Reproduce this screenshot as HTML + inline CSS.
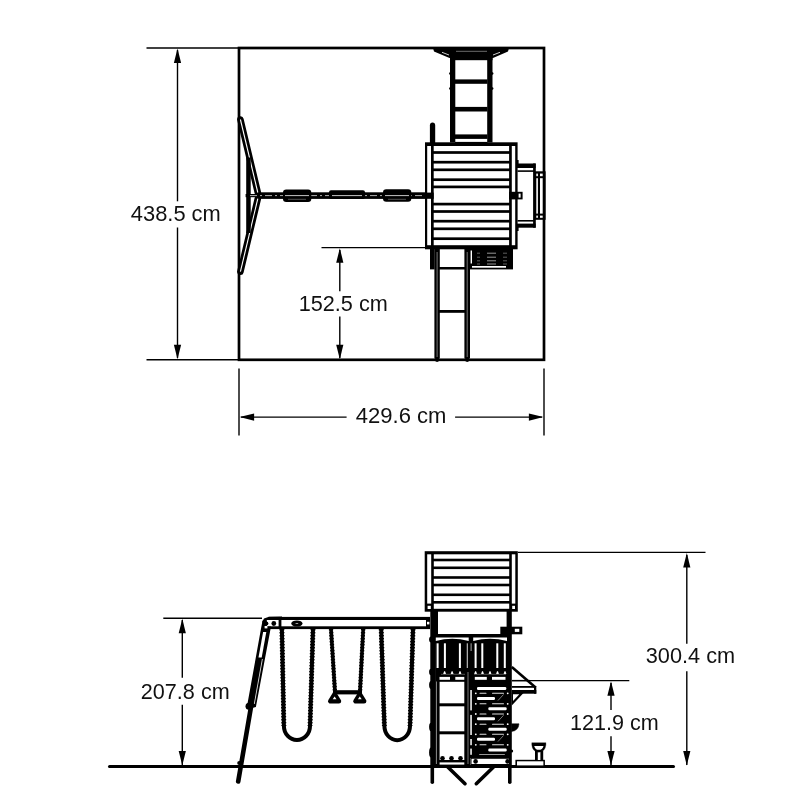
<!DOCTYPE html>
<html><head><meta charset="utf-8"><title>Playset dimensions</title>
<style>
html,body{margin:0;padding:0;background:#fff;}
body{width:800px;height:800px;overflow:hidden;}
svg{display:block;}
text{font-family:"Liberation Sans",sans-serif;font-size:22.4px;fill:#111;}
svg{will-change:transform;}
#txt{filter:grayscale(1);}
</style></head><body>
<svg width="800" height="800" viewBox="0 0 800 800">
<rect x="0" y="0" width="800" height="800" fill="#fff"/>
<rect x="239" y="48" width="305" height="311.8" fill="none" stroke="#000" stroke-width="2.7"/>
<line x1="146.5" y1="48" x2="239" y2="48" stroke="#000" stroke-width="1.4" stroke-linecap="butt"/>
<line x1="146.5" y1="359.8" x2="239" y2="359.8" stroke="#000" stroke-width="1.4" stroke-linecap="butt"/>
<line x1="177.5" y1="50" x2="177.5" y2="201.3" stroke="#000" stroke-width="1.4" stroke-linecap="butt"/>
<line x1="177.5" y1="227.5" x2="177.5" y2="358" stroke="#000" stroke-width="1.4" stroke-linecap="butt"/>
<polygon points="177.5,48.5 173.9,63.0 181.1,63.0" fill="#000"/>
<polygon points="177.5,359.3 173.9,344.8 181.1,344.8" fill="#000"/>
<line x1="321.5" y1="247.6" x2="426" y2="247.6" stroke="#000" stroke-width="1.4" stroke-linecap="butt"/>
<line x1="339.8" y1="250" x2="339.8" y2="291.2" stroke="#000" stroke-width="1.4" stroke-linecap="butt"/>
<line x1="339.8" y1="316.4" x2="339.8" y2="358" stroke="#000" stroke-width="1.4" stroke-linecap="butt"/>
<polygon points="339.8,248.2 336.2,262.7 343.40000000000003,262.7" fill="#000"/>
<polygon points="339.8,359.2 336.2,344.7 343.40000000000003,344.7" fill="#000"/>
<line x1="239" y1="368.5" x2="239" y2="435.5" stroke="#000" stroke-width="1.4" stroke-linecap="butt"/>
<line x1="544" y1="368.5" x2="544" y2="435.5" stroke="#000" stroke-width="1.4" stroke-linecap="butt"/>
<line x1="241" y1="417.1" x2="346.6" y2="417.1" stroke="#000" stroke-width="1.4" stroke-linecap="butt"/>
<line x1="455.1" y1="417.1" x2="542" y2="417.1" stroke="#000" stroke-width="1.4" stroke-linecap="butt"/>
<polygon points="239.6,417.1 254.1,413.5 254.1,420.70000000000005" fill="#000"/>
<polygon points="543.4,417.1 528.9,413.5 528.9,420.70000000000005" fill="#000"/>
<polygon points="433,48 509,48 508,51.5 493,58 449.5,58 434,51.5" fill="#000"/>
<rect x="450" y="48" width="42.5" height="12.2" fill="#000"/>
<line x1="442" y1="52.3" x2="449" y2="55" stroke="#fff" stroke-width="0.8" stroke-linecap="butt"/>
<line x1="500" y1="52.3" x2="493" y2="55" stroke="#fff" stroke-width="0.8" stroke-linecap="butt"/>
<line x1="456" y1="51.3" x2="487" y2="51.3" stroke="#999" stroke-width="0.7" stroke-linecap="butt"/>
<rect x="450" y="58" width="5.3" height="84.5" fill="#000"/>
<rect x="487.2" y="58" width="5.3" height="84.5" fill="#000"/>
<rect x="455" y="79.4" width="32.5" height="4.4" fill="#000"/>
<rect x="455" y="106.9" width="32.5" height="4.6" fill="#000"/>
<rect x="455" y="134.4" width="32.5" height="4.5" fill="#000"/>
<rect x="455" y="141.9" width="32.5" height="1.1" fill="#000"/>
<circle cx="450.3" cy="73.5" r="1.2" fill="#000"/>
<circle cx="492.2" cy="73.5" r="1.2" fill="#000"/>
<circle cx="450.3" cy="88.5" r="1.2" fill="#000"/>
<circle cx="492.2" cy="88.5" r="1.2" fill="#000"/>
<path d="M429.9,143 L429.9,125.5 Q429.9,122.6 432.55,122.6 Q435.2,122.6 435.2,125.5 L435.2,143 Z" fill="#000" stroke="none" stroke-width="0" stroke-linecap="butt" stroke-linejoin="miter" />
<rect x="425" y="142.3" width="92.6" height="107.0" fill="#000"/>
<rect x="427.2" y="146" width="3.8" height="99.2" fill="#fff"/>
<rect x="511.8" y="146" width="3.4" height="99.2" fill="#fff"/>
<rect x="433.7" y="146" width="75.4" height="99.2" fill="#fff"/>
<rect x="433" y="151.15" width="77" height="2.7" fill="#000"/>
<rect x="433" y="160.85" width="77" height="2.7" fill="#000"/>
<rect x="433" y="168.45000000000002" width="77" height="2.7" fill="#000"/>
<rect x="433" y="178.35" width="77" height="2.7" fill="#000"/>
<rect x="433" y="185.55" width="77" height="2.7" fill="#000"/>
<rect x="433" y="202.75" width="77" height="2.7" fill="#000"/>
<rect x="433" y="210.15" width="77" height="2.7" fill="#000"/>
<rect x="433" y="219.85" width="77" height="2.7" fill="#000"/>
<rect x="433" y="227.45000000000002" width="77" height="2.7" fill="#000"/>
<rect x="433" y="237.35" width="77" height="2.7" fill="#000"/>
<rect x="425" y="192.6" width="8.7" height="6.2" fill="#000"/>
<rect x="509.1" y="191.8" width="7.4" height="7.6" fill="#000"/>
<rect x="517" y="163.5" width="18.6" height="4.5" fill="#000"/>
<line x1="517.5" y1="171.1" x2="534" y2="171.1" stroke="#000" stroke-width="1.6" stroke-linecap="butt"/>
<rect x="517" y="223.6" width="18.6" height="4.1" fill="#000"/>
<line x1="517.5" y1="220.8" x2="534" y2="220.8" stroke="#000" stroke-width="1.6" stroke-linecap="butt"/>
<rect x="533.1" y="163.5" width="2.7" height="64.2" fill="#000"/>
<rect x="516" y="160" width="2.6" height="4" fill="#000"/>
<rect x="516" y="227" width="2.6" height="4" fill="#000"/>
<rect x="534.2" y="171.3" width="11.4" height="48.5" fill="#000"/>
<rect x="536.3" y="173.6" width="1.6" height="2.6" fill="#fff"/>
<rect x="540" y="173.6" width="2.7" height="2.6" fill="#fff"/>
<rect x="536.3" y="178.2" width="1.6" height="35.4" fill="#fff"/>
<rect x="540" y="178.2" width="2.7" height="35.4" fill="#fff"/>
<rect x="536.3" y="215.6" width="1.6" height="2.2" fill="#fff"/>
<rect x="540" y="215.6" width="2.7" height="2.2" fill="#fff"/>
<rect x="516" y="191.8" width="6.6" height="7.6" fill="#000"/>
<rect x="518.6" y="193.6" width="2.0" height="4.0" fill="#fff"/>
<rect x="430" y="249" width="4.6" height="20.4" fill="#000"/>
<rect x="434.4" y="249" width="5.4" height="109.5" fill="#000"/>
<rect x="464.4" y="249" width="5.6" height="109.5" fill="#000"/>
<line x1="437.1" y1="252" x2="437.1" y2="357" stroke="#aaa" stroke-width="0.7" stroke-linecap="butt"/>
<line x1="467.2" y1="252" x2="467.2" y2="357" stroke="#aaa" stroke-width="0.7" stroke-linecap="butt"/>
<rect x="439" y="267" width="26" height="2.5" fill="#000"/>
<rect x="439" y="310" width="26" height="2.8" fill="#000"/>
<circle cx="437.1" cy="359.6" r="2.3" fill="#000"/>
<circle cx="467.2" cy="359.6" r="2.3" fill="#000"/>
<rect x="470" y="249" width="43" height="20.4" fill="#000"/>
<rect x="470.6" y="250.5" width="1.4" height="13.0" fill="#fff"/>
<rect x="472" y="266" width="34" height="1.7" fill="#fff"/>
<line x1="487" y1="253.2" x2="496" y2="253.2" stroke="#bbb" stroke-width="0.8" stroke-linecap="butt"/>
<line x1="477" y1="253.2" x2="480" y2="253.2" stroke="#888" stroke-width="0.7" stroke-linecap="butt"/>
<line x1="503" y1="253.2" x2="507" y2="253.2" stroke="#888" stroke-width="0.7" stroke-linecap="butt"/>
<line x1="487" y1="257.2" x2="496" y2="257.2" stroke="#bbb" stroke-width="0.8" stroke-linecap="butt"/>
<line x1="477" y1="257.2" x2="480" y2="257.2" stroke="#888" stroke-width="0.7" stroke-linecap="butt"/>
<line x1="503" y1="257.2" x2="507" y2="257.2" stroke="#888" stroke-width="0.7" stroke-linecap="butt"/>
<line x1="487" y1="260.8" x2="496" y2="260.8" stroke="#bbb" stroke-width="0.8" stroke-linecap="butt"/>
<line x1="477" y1="260.8" x2="480" y2="260.8" stroke="#888" stroke-width="0.7" stroke-linecap="butt"/>
<line x1="503" y1="260.8" x2="507" y2="260.8" stroke="#888" stroke-width="0.7" stroke-linecap="butt"/>
<line x1="487" y1="264" x2="496" y2="264" stroke="#bbb" stroke-width="0.8" stroke-linecap="butt"/>
<line x1="477" y1="264" x2="480" y2="264" stroke="#888" stroke-width="0.7" stroke-linecap="butt"/>
<line x1="503" y1="264" x2="507" y2="264" stroke="#888" stroke-width="0.7" stroke-linecap="butt"/>
<line x1="240.4" y1="119.5" x2="257.8" y2="192.5" stroke="#000" stroke-width="6.6" stroke-linecap="round"/>
<line x1="240.4" y1="119.5" x2="257.8" y2="192.5" stroke="#fff" stroke-width="1.1" stroke-linecap="butt"/>
<line x1="240.4" y1="271.7" x2="257.8" y2="198.7" stroke="#000" stroke-width="6.6" stroke-linecap="round"/>
<line x1="240.4" y1="271.7" x2="257.8" y2="198.7" stroke="#fff" stroke-width="1.1" stroke-linecap="butt"/>
<rect x="246.2" y="157.5" width="4.5" height="75.5" fill="#000"/>
<rect x="245.6" y="194" width="16.4" height="3.2" fill="#000"/>
<rect x="260" y="192.3" width="166" height="6.6" fill="#000"/>
<line x1="250" y1="195.6" x2="425" y2="195.6" stroke="#ddd" stroke-width="0.8" stroke-dasharray="7 3 2 3"/>
<rect x="283" y="189.4" width="28.3" height="12.5" fill="#000" rx="3.2"/>
<line x1="285" y1="195.6" x2="309" y2="195.6" stroke="#ddd" stroke-width="0.9" stroke-linecap="butt"/>
<line x1="288" y1="199.3" x2="306" y2="199.3" stroke="#777" stroke-width="0.7" stroke-linecap="butt"/>
<rect x="383" y="189.2" width="28.3" height="12.6" fill="#000" rx="3.2"/>
<line x1="385" y1="195.6" x2="409" y2="195.6" stroke="#ddd" stroke-width="0.9" stroke-linecap="butt"/>
<line x1="388" y1="199.3" x2="406" y2="199.3" stroke="#777" stroke-width="0.7" stroke-linecap="butt"/>
<rect x="329" y="190.2" width="36" height="8.7" fill="#000" rx="2"/>
<line x1="332" y1="195.6" x2="362" y2="195.6" stroke="#ddd" stroke-width="0.9" stroke-linecap="butt"/>
<line x1="109.5" y1="766.4" x2="673.5" y2="766.4" stroke="#000" stroke-width="3" stroke-linecap="round"/>
<line x1="163.3" y1="618.2" x2="262" y2="618.2" stroke="#000" stroke-width="1.4" stroke-linecap="butt"/>
<line x1="182.3" y1="620" x2="182.3" y2="677.7" stroke="#000" stroke-width="1.4" stroke-linecap="butt"/>
<line x1="182.3" y1="704.7" x2="182.3" y2="765" stroke="#000" stroke-width="1.4" stroke-linecap="butt"/>
<polygon points="182.3,618.8 178.70000000000002,633.3 185.9,633.3" fill="#000"/>
<polygon points="182.3,765.4 178.70000000000002,750.9 185.9,750.9" fill="#000"/>
<line x1="518" y1="552.4" x2="705.5" y2="552.4" stroke="#000" stroke-width="1.4" stroke-linecap="butt"/>
<line x1="686.8" y1="555" x2="686.8" y2="643.8" stroke="#000" stroke-width="1.4" stroke-linecap="butt"/>
<line x1="686.8" y1="671.3" x2="686.8" y2="765" stroke="#000" stroke-width="1.4" stroke-linecap="butt"/>
<polygon points="686.8,553 683.1999999999999,567.5 690.4,567.5" fill="#000"/>
<polygon points="686.8,765.4 683.1999999999999,750.9 690.4,750.9" fill="#000"/>
<line x1="512" y1="680.6" x2="629.3" y2="680.6" stroke="#000" stroke-width="1.4" stroke-linecap="butt"/>
<line x1="611" y1="683" x2="611" y2="710" stroke="#000" stroke-width="1.4" stroke-linecap="butt"/>
<line x1="611" y1="736.3" x2="611" y2="765" stroke="#000" stroke-width="1.4" stroke-linecap="butt"/>
<polygon points="611,681.2 607.4,695.7 614.6,695.7" fill="#000"/>
<polygon points="611,765.4 607.4,750.9 614.6,750.9" fill="#000"/>
<rect x="268.5" y="616.9" width="161.5" height="3.1" fill="#000"/>
<rect x="266" y="626.3" width="164" height="2.8" fill="#000"/>
<rect x="278.6" y="617" width="2.8" height="12" fill="#000"/>
<rect x="426" y="617" width="4" height="12" fill="#000"/>
<polygon points="262.2,622 264,618.6 269,616.7 282,616.4 282,620 267,620 263.5,625" fill="#000"/>
<circle cx="266.3" cy="623.5" r="2.1" fill="#000"/>
<circle cx="273.8" cy="623.5" r="2.4" fill="#000"/>
<ellipse cx="296.9" cy="623.5" rx="5.6" ry="3.1" fill="#000"/>
<line x1="295.6" y1="623.5" x2="298.2" y2="623.5" stroke="#ddd" stroke-width="0.7" stroke-linecap="butt"/>
<polygon points="262.6,620.5 266.9,620.5 266.9,626.5 271.0,626.5 255.89,707 248.52999999999997,709 246.89,707 261.10999999999996,628" fill="#000"/>
<polygon points="263.09,632 266.28999999999996,632 261.7,657.5 258.5,657.5" fill="#fff"/>
<polygon points="261.92999999999995,659 262.83,659 254.73,704 253.82999999999998,704" fill="#ddd"/>
<rect x="264.6" y="626.0" width="2.8" height="2.4" fill="#fff"/>
<circle cx="249.0" cy="706.2" r="3.5" fill="#000"/>
<line x1="251.5" y1="704" x2="238.2" y2="781.5" stroke="#000" stroke-width="4.6" stroke-linecap="round"/>
<circle cx="239.3" cy="763" r="2.1" fill="#000"/>
<path d="M281.9,629 L283.9,726 A13.050000000000011,14 0 0 0 310,726 L313,629" fill="none" stroke="#000" stroke-width="4.0" stroke-linecap="butt" stroke-linejoin="round" />
<path d="M281.9,629 L283.9,726" fill="none" stroke="#000" stroke-width="4.9" stroke-linecap="butt" stroke-linejoin="miter" stroke-dasharray="1.4 1.6"/>
<path d="M313,629 L310,726" fill="none" stroke="#000" stroke-width="4.9" stroke-linecap="butt" stroke-linejoin="miter" stroke-dasharray="1.4 1.6"/>
<path d="M381.2,629 L384.4,726 A12.800000000000011,14.200000000000045 0 0 0 410,726 L413,629" fill="none" stroke="#000" stroke-width="4.0" stroke-linecap="butt" stroke-linejoin="round" />
<path d="M381.2,629 L384.4,726" fill="none" stroke="#000" stroke-width="4.9" stroke-linecap="butt" stroke-linejoin="miter" stroke-dasharray="1.4 1.6"/>
<path d="M413,629 L410,726" fill="none" stroke="#000" stroke-width="4.9" stroke-linecap="butt" stroke-linejoin="miter" stroke-dasharray="1.4 1.6"/>
<line x1="331" y1="629" x2="335" y2="692" stroke="#000" stroke-width="3.6" stroke-linecap="butt"/>
<line x1="363.2" y1="629" x2="360" y2="692" stroke="#000" stroke-width="3.6" stroke-linecap="butt"/>
<path d="M331,629 L335,692" fill="none" stroke="#000" stroke-width="4.3" stroke-linecap="butt" stroke-linejoin="miter" stroke-dasharray="1.4 1.6"/>
<path d="M363.2,629 L360,692" fill="none" stroke="#000" stroke-width="4.3" stroke-linecap="butt" stroke-linejoin="miter" stroke-dasharray="1.4 1.6"/>
<rect x="333" y="690.2" width="29" height="4.2" fill="#000"/>
<path d="M334.6,694.3 L330.3,701.2 L338.90000000000003,701.2 Z" fill="#000" stroke="#000" stroke-width="4.6" stroke-linecap="butt" stroke-linejoin="round" />
<polygon points="334.6,696.6 332.70000000000005,699.3 336.5,699.3" fill="#fff"/>
<path d="M359.8,694.3 L355.5,701.2 L364.1,701.2 Z" fill="#000" stroke="#000" stroke-width="4.6" stroke-linecap="butt" stroke-linejoin="round" />
<polygon points="359.8,696.6 357.90000000000003,699.3 361.7,699.3" fill="#fff"/>
<rect x="424.7" y="551.2" width="93.1" height="60.5" fill="#000"/>
<rect x="427.2" y="554.3" width="4.0" height="49.3" fill="#fff"/>
<rect x="511.8" y="554.3" width="3.5" height="49.3" fill="#fff"/>
<rect x="427.6" y="605.8" width="3.2" height="3.2" fill="#fff"/>
<rect x="512.2" y="605.8" width="2.8" height="3.2" fill="#fff"/>
<rect x="433.8" y="554.3" width="75.4" height="54.5" fill="#fff"/>
<rect x="433" y="558.7" width="77" height="2.6" fill="#000"/>
<rect x="433" y="566.5" width="77" height="2.6" fill="#000"/>
<rect x="433" y="576.2" width="77" height="2.6" fill="#000"/>
<rect x="433" y="583.7" width="77" height="2.6" fill="#000"/>
<rect x="433" y="593.5" width="77" height="2.6" fill="#000"/>
<rect x="433" y="601.0" width="77" height="2.6" fill="#000"/>
<rect x="430.3" y="611" width="7.7" height="155" fill="#000"/>
<rect x="506.6" y="611" width="5.2" height="155" fill="#000"/>
<line x1="436.4" y1="643.5" x2="436.4" y2="764" stroke="#ccc" stroke-width="0.7" stroke-linecap="butt"/>
<ellipse cx="431.2" cy="639.5" rx="2.1" ry="3" fill="#000"/>
<ellipse cx="431.2" cy="672" rx="2.1" ry="3.2" fill="#000"/>
<ellipse cx="431.2" cy="685" rx="2.1" ry="4" fill="#000"/>
<ellipse cx="431.2" cy="727" rx="2.1" ry="4.2" fill="#000"/>
<ellipse cx="431.2" cy="752.5" rx="2.1" ry="5" fill="#000"/>
<circle cx="511.6" cy="751" r="1.6" fill="#000"/>
<rect x="427" y="621.8" width="2.4" height="2.6" fill="#fff"/>
<rect x="500.3" y="626.7" width="22.0" height="7.6" fill="#000"/>
<rect x="514.8" y="628.8" width="4.5" height="3.1" fill="#fff"/>
<rect x="436" y="634" width="72" height="47.5" fill="#000"/>
<path d="M435.8,637.4 L468.7,637.4 L468.7,640.9 Q452.2,636.6 435.8,640.9 Z" fill="#fff" stroke="none" stroke-width="0" stroke-linecap="butt" stroke-linejoin="miter" />
<path d="M473.2,637.4 L507,637.4 L507,640.9 Q490,636.6 473.2,640.9 Z" fill="#fff" stroke="none" stroke-width="0" stroke-linecap="butt" stroke-linejoin="miter" />
<rect x="436.6" y="643.3" width="2.0" height="24.7" fill="#fff"/>
<rect x="443.9" y="643.3" width="2.0" height="24.7" fill="#fff"/>
<rect x="458.9" y="643.3" width="2.0" height="24.7" fill="#fff"/>
<rect x="466.7" y="643.3" width="1.3" height="24.7" fill="#aaa"/>
<rect x="474.6" y="643.3" width="2.0" height="24.7" fill="#fff"/>
<rect x="481.3" y="643.3" width="2.0" height="24.7" fill="#fff"/>
<rect x="496.3" y="643.3" width="2.0" height="24.7" fill="#fff"/>
<rect x="503.8" y="643.3" width="2.0" height="24.7" fill="#fff"/>
<rect x="470.6" y="643.3" width="1.0" height="7.7" fill="#aaa"/>
<polygon points="443.20000000000005,673.9 446.0,673.9 445.1,671.3 444.1,671.3" fill="#fff"/>
<polygon points="450.70000000000005,673.9 453.5,673.9 452.6,671.3 451.6,671.3" fill="#fff"/>
<polygon points="458.6,673.9 461.4,673.9 460.5,671.3 459.5,671.3" fill="#fff"/>
<polygon points="474.20000000000005,673.9 477.0,673.9 476.1,671.3 475.1,671.3" fill="#fff"/>
<polygon points="481.1,673.9 483.9,673.9 483.0,671.3 482.0,671.3" fill="#fff"/>
<polygon points="488.6,673.9 491.4,673.9 490.5,671.3 489.5,671.3" fill="#fff"/>
<polygon points="496.1,673.9 498.9,673.9 498.0,671.3 497.0,671.3" fill="#fff"/>
<polygon points="503.6,673.9 506.4,673.9 505.5,671.3 504.5,671.3" fill="#fff"/>
<line x1="441" y1="674.3" x2="465" y2="674.3" stroke="#888" stroke-width="0.6" stroke-linecap="butt"/>
<line x1="474" y1="674.3" x2="506" y2="674.3" stroke="#888" stroke-width="0.6" stroke-linecap="butt"/>
<rect x="439.5" y="676.9" width="10.5" height="2.9" fill="#fff"/>
<rect x="455.3" y="676.9" width="9.0" height="2.9" fill="#fff"/>
<rect x="474.8" y="676.9" width="12.0" height="2.9" fill="#fff"/>
<rect x="492" y="676.9" width="13.5" height="2.9" fill="#fff"/>
<rect x="438" y="681" width="32" height="85" fill="#000"/>
<rect x="439.6" y="681.8" width="24.7" height="21.5" fill="#fff"/>
<rect x="439.6" y="706.3" width="24.7" height="25.0" fill="#fff"/>
<rect x="439.6" y="734.3" width="24.7" height="20.7" fill="#fff"/>
<rect x="439.6" y="755" width="24.7" height="5" fill="#fff"/>
<circle cx="442.5" cy="758.3" r="2.3" fill="#000"/>
<circle cx="451.5" cy="758.3" r="2.3" fill="#000"/>
<circle cx="460.5" cy="758.3" r="2.3" fill="#000"/>
<rect x="439.6" y="760" width="24.7" height="2.3" fill="#000"/>
<rect x="439.6" y="762.4" width="24.7" height="2.2" fill="#fff"/>
<rect x="468" y="681" width="5" height="77" fill="#000"/>
<rect x="470.3" y="690" width="1.5" height="20.4" fill="#fff"/>
<rect x="470.3" y="714.9" width="1.5" height="20.1" fill="#fff"/>
<rect x="470.3" y="739" width="1.5" height="6.2" fill="#fff"/>
<rect x="470.3" y="748.6" width="1.5" height="6.2" fill="#fff"/>
<rect x="467.6" y="672" width="0.8" height="92" fill="#999"/>
<rect x="472" y="681" width="35" height="77" fill="#000"/>
<rect x="477" y="686.9" width="29.3" height="3.0" fill="#fff" rx="1.2"/>
<rect x="477" y="696.9" width="18" height="3.0" fill="#fff" rx="1.2"/>
<rect x="477" y="717.3" width="18" height="3.0" fill="#fff" rx="1.2"/>
<rect x="477" y="737.7" width="18" height="3.0" fill="#fff" rx="1.2"/>
<rect x="488.3" y="707.3" width="18.4" height="3.0" fill="#fff" rx="1.2"/>
<rect x="488.3" y="727.8" width="18.4" height="3.0" fill="#fff" rx="1.2"/>
<rect x="488.3" y="748.5" width="18.4" height="3.0" fill="#fff" rx="1.2"/>
<rect x="479.5" y="692.8" width="7.0" height="1.0" fill="#ddd" rx="0.5"/>
<rect x="492" y="692.8" width="12" height="1.0" fill="#ddd" rx="0.5"/>
<circle cx="475.8" cy="693.3" r="0.9" fill="#fff"/>
<circle cx="507.7" cy="693.3" r="0.9" fill="#fff"/>
<rect x="479.5" y="703.3" width="7.0" height="1.0" fill="#ddd" rx="0.5"/>
<rect x="492" y="703.3" width="12" height="1.0" fill="#ddd" rx="0.5"/>
<circle cx="475.8" cy="703.8" r="0.9" fill="#fff"/>
<circle cx="507.7" cy="703.8" r="0.9" fill="#fff"/>
<rect x="479.5" y="713.5" width="7.0" height="1.0" fill="#ddd" rx="0.5"/>
<rect x="492" y="713.5" width="12" height="1.0" fill="#ddd" rx="0.5"/>
<circle cx="475.8" cy="714" r="0.9" fill="#fff"/>
<circle cx="507.7" cy="714" r="0.9" fill="#fff"/>
<rect x="479.5" y="723.7" width="7.0" height="1.0" fill="#ddd" rx="0.5"/>
<rect x="492" y="723.7" width="12" height="1.0" fill="#ddd" rx="0.5"/>
<circle cx="475.8" cy="724.2" r="0.9" fill="#fff"/>
<circle cx="507.7" cy="724.2" r="0.9" fill="#fff"/>
<rect x="479.5" y="733.8" width="7.0" height="1.0" fill="#ddd" rx="0.5"/>
<rect x="492" y="733.8" width="12" height="1.0" fill="#ddd" rx="0.5"/>
<circle cx="475.8" cy="734.3" r="0.9" fill="#fff"/>
<circle cx="507.7" cy="734.3" r="0.9" fill="#fff"/>
<rect x="479.5" y="744.3" width="7.0" height="1.0" fill="#ddd" rx="0.5"/>
<rect x="492" y="744.3" width="12" height="1.0" fill="#ddd" rx="0.5"/>
<circle cx="475.8" cy="744.8" r="0.9" fill="#fff"/>
<circle cx="507.7" cy="744.8" r="0.9" fill="#fff"/>
<rect x="479" y="753.9499999999999" width="26" height="0.9" fill="#ccc" rx="0.45"/>
<line x1="498" y1="700.5" x2="503.5" y2="694.5" stroke="#999" stroke-width="0.8" stroke-linecap="butt"/>
<line x1="498" y1="721.3" x2="503.5" y2="715.3" stroke="#999" stroke-width="0.8" stroke-linecap="butt"/>
<line x1="498" y1="741.5" x2="503.5" y2="735.5" stroke="#999" stroke-width="0.8" stroke-linecap="butt"/>
<rect x="470.3" y="757.6" width="39.9" height="7.4" fill="#000"/>
<rect x="471.5" y="758.8" width="37.5" height="5.2" fill="#fff"/>
<circle cx="475.6" cy="761.4" r="2.3" fill="#000"/>
<circle cx="507.6" cy="761.4" r="2.3" fill="#000"/>
<line x1="511.8" y1="667.0" x2="535.6" y2="687.6" stroke="#000" stroke-width="2.6" stroke-linecap="butt"/>
<line x1="512" y1="686.9" x2="535.5" y2="686.9" stroke="#000" stroke-width="1.8" stroke-linecap="butt"/>
<rect x="511.8" y="690" width="24.5" height="3.7" fill="#000"/>
<rect x="534.0" y="686" width="2.3" height="7.7" fill="#000"/>
<line x1="512" y1="680.6" x2="530" y2="680.6" stroke="#000" stroke-width="1.4" stroke-linecap="butt"/>
<polygon points="523.5,693 511.8,705.5 511.8,693" fill="#000"/>
<polygon points="519.3,694.2 513,701 513,694.2" fill="#fff"/>
<path d="M511.5,723.8 L519,723.8 Q518.6,730.5 511.5,731.6 Z" fill="#000" stroke="#000" stroke-width="0.5" stroke-linecap="butt" stroke-linejoin="miter" />
<rect x="515.4" y="759.8" width="29.5" height="5.6" fill="#000"/>
<rect x="517" y="761.3" width="26.4" height="4.1" fill="#fff"/>
<rect x="535" y="751" width="8.2" height="9.5" fill="#000"/>
<rect x="537.8" y="752" width="2.6" height="8" fill="#fff"/>
<path d="M531.8,742.7 L545.9,742.7 L545.9,745 Q545,752 538.8,752.2 Q532.6,752 531.8,745 Z" fill="#000" stroke="#000" stroke-width="0.3" stroke-linecap="butt" stroke-linejoin="miter" />
<path d="M534.2,745.9 L543.5,745.9 Q542.5,749.8 538.8,749.8 Q535.2,749.8 534.2,745.9 Z" fill="#fff" stroke="none" stroke-width="0" stroke-linecap="butt" stroke-linejoin="miter" />
<line x1="432.3" y1="766" x2="432.3" y2="782.2" stroke="#000" stroke-width="3.6" stroke-linecap="round"/>
<line x1="509.8" y1="766" x2="509.8" y2="782.2" stroke="#000" stroke-width="3.6" stroke-linecap="round"/>
<line x1="447.8" y1="767" x2="465" y2="783.7" stroke="#000" stroke-width="3.6" stroke-linecap="round"/>
<line x1="493.5" y1="767" x2="476.3" y2="783.7" stroke="#000" stroke-width="3.6" stroke-linecap="round"/>
<g id="txt">
<text x="130.8" y="220.8" textLength="90" lengthAdjust="spacingAndGlyphs">438.5 cm</text>
<text x="298.7" y="311.2" textLength="89.1" lengthAdjust="spacingAndGlyphs">152.5 cm</text>
<text x="355.8" y="423.3" textLength="90.7" lengthAdjust="spacingAndGlyphs">429.6 cm</text>
<text x="140.8" y="699.1" textLength="88.9" lengthAdjust="spacingAndGlyphs">207.8 cm</text>
<text x="645.8" y="663.3" textLength="89.3" lengthAdjust="spacingAndGlyphs">300.4 cm</text>
<text x="570" y="730" textLength="88.8" lengthAdjust="spacingAndGlyphs">121.9 cm</text>
</g>
</svg>
</body></html>
